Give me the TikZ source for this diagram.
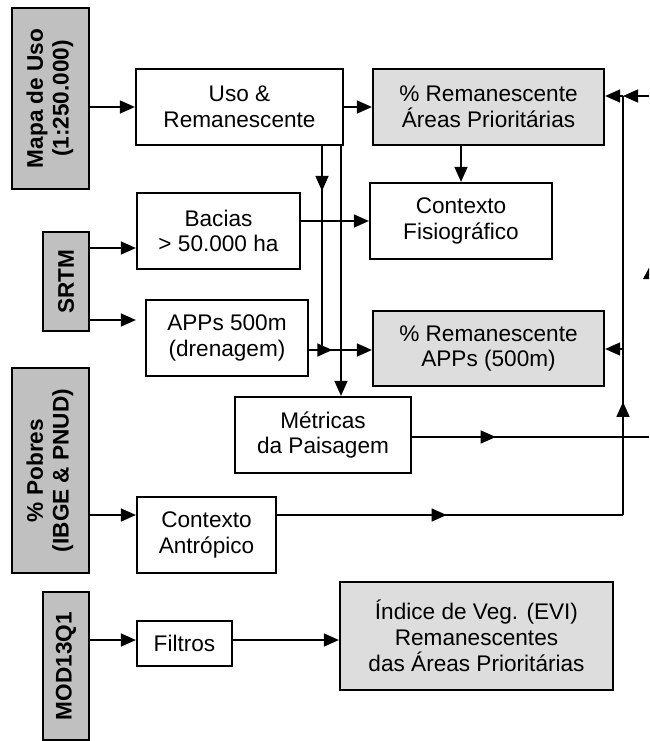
\documentclass[tikz,border=0pt]{standalone}
\usepackage{fontspec}
\setmainfont{Liberation Sans}
\usepackage{graphicx}
\usetikzlibrary{arrows.meta,decorations.markings}
\definecolor{indark}{HTML}{C0C0C0}
\definecolor{outlight}{HTML}{DDDDDD}
\begin{document}
\begin{tikzpicture}[x=1pt,y=-1pt,
  box/.style={draw, line width=2.2pt, inner sep=0pt, align=center, font=\fontsize{22.6}{25.8}\selectfont},
  inbox/.style={box, fill=indark},
  outbox/.style={box, fill=outlight},
  wbox/.style={box, fill=white},
  conn/.style={line width=1.4pt},
  ah/.tip={Triangle[length=15pt,width=13pt]},
  arr/.style={conn, -{ah}},
  midarr/.style={conn, postaction={decorate}, decoration={markings, mark=at position #1 with {\arrow{ah}}}},
]
\clip (0,0) rectangle (649,741);
\fill[white] (0,0) rectangle (649,741);

% input boxes
\node[inbox, minimum width=77pt, minimum height=181pt] (mapa) at (50.5,98.5)
  {\rotatebox{90}{\bfseries\begin{tabular}{@{}c@{}}Mapa de Uso\\(1:250.000)\end{tabular}}};
\node[inbox, minimum width=46pt, minimum height=99pt] (srtm) at (66,281.5)
  {\rotatebox{90}{\bfseries SRTM}};
\node[inbox, minimum width=77pt, minimum height=205pt] (pobres) at (50.5,470.5)
  {\rotatebox{90}{\bfseries\begin{tabular}{@{}c@{}}\% Pobres\\(IBGE \& PNUD)\end{tabular}}};
\node[inbox, minimum width=46pt, minimum height=148pt] (mod) at (66,666)
  {\rotatebox{90}{\bfseries MOD13Q1}};

% processing boxes
\node[wbox, minimum width=207pt, minimum height=76pt] (uso) at (239.5,107) {Uso \&\\Remanescente};
\node[wbox, minimum width=163pt, minimum height=76pt] (bacias) at (218.5,231) {Bacias\\> 50.000 ha};
\node[wbox, minimum width=162pt, minimum height=76pt] (apps) at (227,338) {APPs 500m\\(drenagem)};
\node[wbox, minimum width=176pt, minimum height=76pt] (metr) at (323,435) {Métricas\\da Paisagem};
\node[wbox, minimum width=139pt, minimum height=76pt] (ctxa) at (206.5,535) {Contexto\\Antrópico};
\node[wbox, minimum width=95pt, minimum height=45pt] (filtros) at (184.5,643.5) {Filtros};
\node[wbox, minimum width=182pt, minimum height=76pt] (ctxf) at (461,221) {Contexto\\Fisiográfico};

% output boxes
\node[outbox, minimum width=231pt, minimum height=76pt] (remap) at (488.5,107) {\% Remanescente\\Áreas Prioritárias};
\node[outbox, minimum width=231pt, minimum height=75pt] (remapps) at (488.5,348.5) {\% Remanescente\\APPs (500m)};
\node[outbox, minimum width=273pt, minimum height=108pt] (indice) at (476.5,636) {Índice de Veg. (EVI)\\Remanescentes\\das Áreas Prioritárias};

% helper coordinates
\coordinate (j1) at (322,350);
\coordinate (c1) at (623,515);
\coordinate (c2) at (623,96);
\coordinate (c3) at (623,349);
\coordinate (e1) at (649,96);
\coordinate (e2) at (649,437);

% connectors
\draw[arr] (mapa.east |- uso.west) -- (uso.west);
\draw[arr] (uso.east) -- (remap.west);
\draw[arr] (ctxf.north |- remap.south) -- (ctxf.north);
\draw[arr] (srtm.east |- 0,248) -- (bacias.west |- 0,248);
\draw[arr, shorten >=9pt] (srtm.east |- 0,320) -- (apps.west |- 0,320);
\draw[arr] (bacias.east |- ctxf.west) -- (ctxf.west);
\draw[midarr=0.22] (uso.south -| 322,0) -- (j1);
\draw[arr, midarr=0.37] (apps.east |- j1) -- (remapps.west |- j1);
\draw[arr] (uso.south -| 341,0) -- (metr.north -| 341,0);
\draw[midarr=0.353] (metr.east |- e2) -- (e2);
\draw[arr] (pobres.east |- c1) -- (ctxa.west |- c1);
\draw[midarr=0.49] (ctxa.east |- c1) -- (c1);
\draw[midarr=0.27] (c1) -- (c2);
\draw[arr] (c2) -- (remap.east |- c2);
\draw[arr] (e1) -- (c2);
\draw[arr] (c3) -- (remapps.east |- c3);
\draw[arr] (mod.east |- 0,640) -- (filtros.west |- 0,640);
\draw[arr] (filtros.east |- 0,640) -- (indice.west |- 0,640);

% partially visible arrowhead at the right edge
\fill (643,279) -- (651,264) -- (659,279) -- cycle;
\end{tikzpicture}
\end{document}
